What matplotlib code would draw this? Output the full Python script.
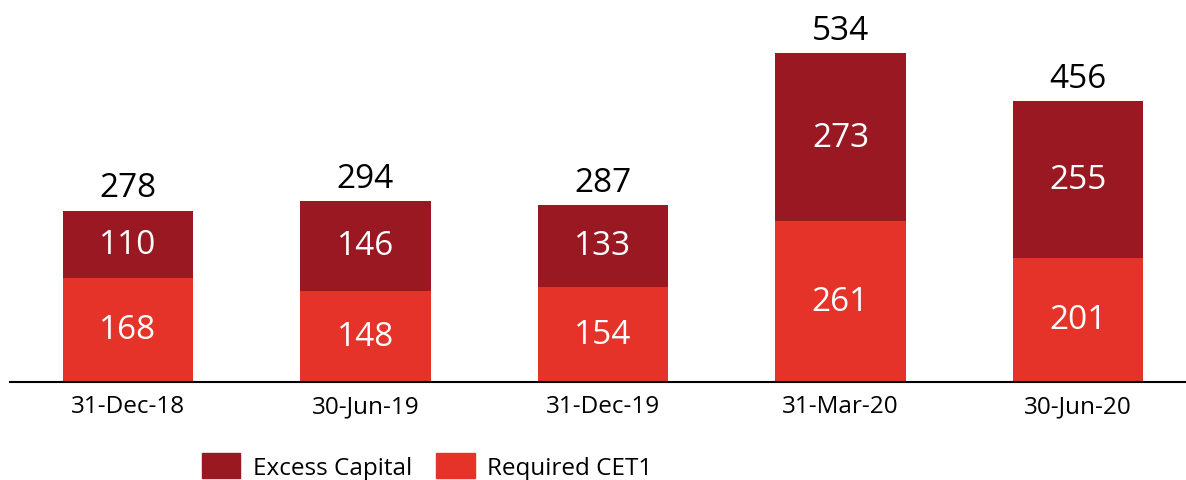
import matplotlib
matplotlib.use("Agg")
import matplotlib.pyplot as plt
import matplotlib.patches as mpatches

plt.rcParams['font.family'] = ['Open Sans', 'DejaVu Sans']

dates = ["31-Dec-18", "30-Jun-19", "31-Dec-19", "31-Mar-20", "30-Jun-20"]
required_cet1 = [168, 148, 154, 261, 201]
excess_capital = [110, 146, 133, 273, 255]
totals = [278, 294, 287, 534, 456]

dark_red = "#9A1822"
red = "#E5332A"

fig = plt.figure(figsize=(11.86, 4.81), dpi=100)
ax = fig.add_axes([0.0084, 0.2045, 0.9916, 0.7955])

x = range(len(dates))
width = 0.55
ax.bar(x, required_cet1, width, color=red, zorder=2)
ax.bar(x, excess_capital, width, bottom=required_cet1, color=dark_red, zorder=2)

for i in x:
    ax.text(i, required_cet1[i] / 2, str(required_cet1[i]), ha='center', va='center',
            fontsize=24, color='white')
    ax.text(i, required_cet1[i] + excess_capital[i] / 2, str(excess_capital[i]),
            ha='center', va='center', fontsize=24, color='white')
    ax.text(i, totals[i] + 10, str(totals[i]), ha='center', va='bottom',
            fontsize=24, color='black')

ax.set_xlim(-0.497, 4.455)
ax.set_ylim(0, 622)
ax.set_xticks(list(x))
ax.set_xticklabels(dates, fontsize=17.5)
ax.tick_params(axis='x', length=0, pad=9)
ax.set_yticks([])
for side in ['top', 'right', 'left']:
    ax.spines[side].set_visible(False)
ax.spines['bottom'].set_linewidth(1.5)
ax.spines['bottom'].set_color('black')

handles = [mpatches.Patch(color=dark_red, label="Excess Capital"),
           mpatches.Patch(color=red, label="Required CET1")]
fig.legend(handles=handles, loc='center', bbox_to_anchor=(0.36, 0.028),
           ncol=2, frameon=False, fontsize=17.5, handlelength=1.6, handleheight=1.2,
           columnspacing=1.0, handletextpad=0.5)

fig.savefig("out.png", dpi=100)
